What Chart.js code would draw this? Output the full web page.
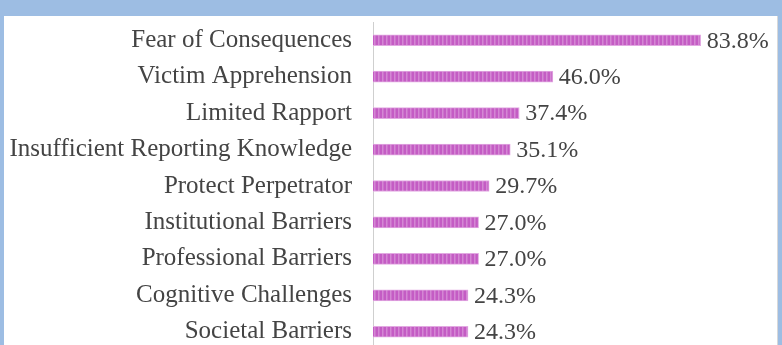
<!DOCTYPE html>
<html>
<head>
<meta charset="utf-8">
<script src="https://cdn.jsdelivr.net/npm/chart.js@4/dist/chart.umd.min.js"></script>
<style>
  html, body { margin: 0; padding: 0; width: 782px; height: 345px; overflow: hidden; background: #9dbde3; }
  #panel { position: absolute; left: 4px; top: 16px; width: 773px; height: 340px; background: #ffffff; border-right: 1px solid #d8d8d8; }
  #c { position: absolute; left: 0; top: 0; }
</style>
</head>
<body>
<div id="panel"></div>
<canvas id="c" width="782" height="352"></canvas>
<script>
const categories = [
  "Fear of Consequences",
  "Victim Apprehension",
  "Limited Rapport",
  "Insufficient Reporting Knowledge",
  "Protect Perpetrator",
  "Institutional Barriers",
  "Professional Barriers",
  "Cognitive Challenges",
  "Societal Barriers"
];
const percentages = [83.8, 46.0, 37.4, 35.1, 29.7, 27.0, 27.0, 24.3, 24.3];
const valueLabels = ["83.8%", "46.0%", "37.4%", "35.1%", "29.7%", "27.0%", "27.0%", "24.3%", "24.3%"];

function makePattern() {
  const p = document.createElement('canvas');
  p.width = 4; p.height = 10;
  const g = p.getContext('2d');
  g.fillStyle = '#c45cc4';
  g.fillRect(0, 0, 4, 10);
  g.fillStyle = '#d487d4';
  g.fillRect(2, 0, 1, 10);
  g.fillStyle = '#cc72cc';
  g.fillRect(3, 0, 1, 10);
  return g.createPattern(p, 'repeat');
}

const valueLabelPlugin = {
  id: 'valueLabels',
  afterDatasetsDraw(chart) {
    const ctx = chart.ctx;
    const meta = chart.getDatasetMeta(0);
    ctx.save();
    ctx.font = '24px "Liberation Serif", "DejaVu Serif", serif';
    ctx.fillStyle = '#444444';
    ctx.textAlign = 'left';
    ctx.textBaseline = 'middle';
    meta.data.forEach((bar, i) => {
      ctx.fillText(valueLabels[i], bar.x + 6, bar.y + 1);
    });
    ctx.restore();
  }
};

new Chart(document.getElementById('c'), {
  type: 'bar',
  data: {
    labels: categories,
    datasets: [{
      data: percentages,
      backgroundColor: makePattern(),
      borderColor: '#e2a9e2',
      borderWidth: 1,
      borderSkipped: 'start',
      barThickness: 11
    }]
  },
  options: {
    indexAxis: 'y',
    responsive: false,
    animation: false,
    layout: { padding: { top: 22, right: 18, bottom: 2, left: 0 } },
    plugins: { legend: { display: false }, tooltip: { enabled: false } },
    scales: {
      x: { display: false, min: 0, max: 100 },
      y: {
        afterFit(scale) { scale.width = 373; scale.paddingTop = 0; scale.paddingBottom = 0; },
        grid: { display: false, drawTicks: false },
        border: { display: true, color: '#cfcfcf', width: 1 },
        ticks: {
          padding: 21,
          color: '#444444',
          font: { family: '"Liberation Serif", "DejaVu Serif", serif', size: 25 }
        }
      }
    }
  },
  plugins: [valueLabelPlugin]
});
</script>
</body>
</html>
